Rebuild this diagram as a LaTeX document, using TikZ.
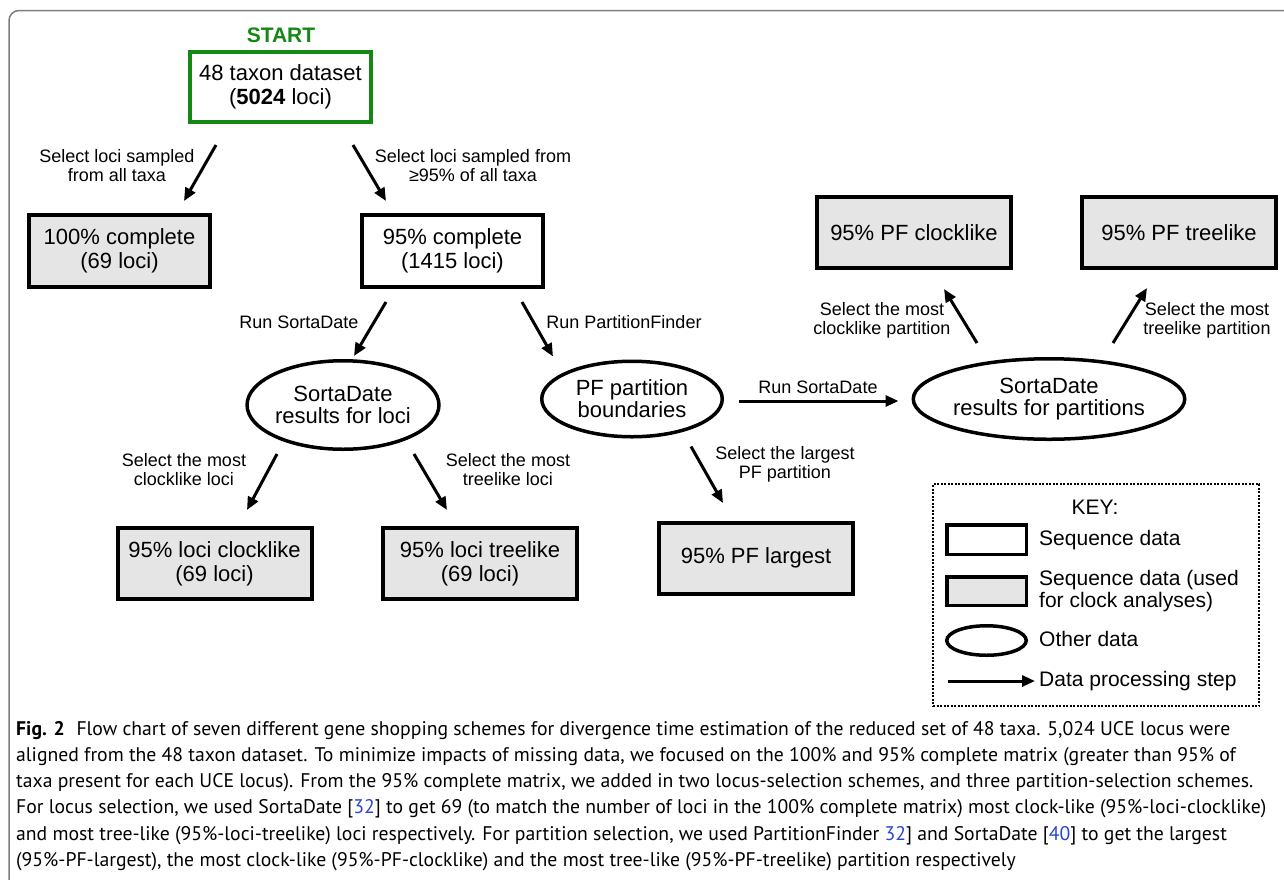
\documentclass[tikz,border=0pt]{standalone}
\usepackage{fontspec}
\setmainfont{Liberation Sans}
\newfontfamily\capfont{PT Sans}
\usepackage{tikz}
\usetikzlibrary{positioning, arrows.meta, shapes.geometric}
\definecolor{startgreen}{RGB}{20,135,20}
\definecolor{boxgray}{RGB}{229,229,229}
\definecolor{framegray}{RGB}{125,125,125}
\definecolor{refblue}{RGB}{40,70,210}

\begin{document}
\begin{tikzpicture}[x=1pt, y=-1pt,
  font=\fontsize{18}{19}\selectfont,
  databox/.style={draw, line width=4pt, minimum width=194pt, minimum height=71pt,
    inner sep=0pt, align=center, font=\fontsize{22}{24}\selectfont},
  clockbox/.style={databox, fill=boxgray},
  other/.style={draw, ellipse, line width=3.5pt, inner sep=0pt, align=center,
    font=\fontsize{22}{22}\selectfont},
  flow/.style={-{Triangle[length=13pt, width=11pt]}, line width=3pt},
  steplabel/.style={align=center, inner sep=0pt},
  keyshape/.style={draw, line width=3.5pt, minimum width=79.5pt, minimum height=29.5pt, inner sep=0pt},
  keytext/.style={anchor=west, align=left, inner sep=0pt, font=\fontsize{21}{22}\selectfont},
]
  \useasboundingbox (0,0) rectangle (1284,879);
  \draw[framegray, line width=1.5pt, rounded corners=10pt] (1290,10.5) -| (9,890);

  \node[databox, draw=startgreen, minimum width=181pt, minimum height=70pt] (ds) at (280.5,87)
    {48 taxon dataset\\(\textbf{5024} loci)};
  \node[text=startgreen, font=\fontsize{21}{21}\selectfont\bfseries] (start) at (281,35) {START};

  \node[clockbox, minimum width=181pt, minimum height=72pt] (full) at (119.5,251)
    {100\% complete\\(69 loci)};
  \node[databox, minimum width=181pt, minimum height=72pt] (c95) at (452.5,251)
    {95\% complete\\(1415 loci)};

  \node[other, minimum width=180.5pt, minimum height=88.5pt] (sdl) at (343,405)
    {SortaDate\\results for loci};
  \node[other, minimum width=180.5pt, minimum height=75.5pt] (pfb) at (632,399)
    {PF partition\\boundaries};
  \node[other, minimum width=234.5pt, minimum height=80.5pt] (sdp) at (1049,399)
    {SortaDate\\results for partitions};

  \node[clockbox] (lc) at (214.5,563.5) {95\% loci clocklike\\(69 loci)};
  \node[clockbox] (lt) at (480,563.5) {95\% loci treelike\\(69 loci)};
  \node[clockbox] (pfl) at (756,558) {95\% PF largest};
  \node[clockbox] (pfc) at (914,232.5) {95\% PF clocklike};
  \node[clockbox] (pft) at (1179,232.5) {95\% PF treelike};

  \draw[flow] ([xshift=-64.5pt, yshift=-21pt]ds.south) -- ([xshift=64.5pt, yshift=12pt]full.north);
  \draw[flow] ([xshift=72.5pt, yshift=-21pt]ds.south) -- ([xshift=-66.5pt, yshift=12pt]c95.north);
  \draw[flow] ([xshift=-66.5pt, yshift=-13pt]c95.south) -- ([xshift=11pt, yshift=3pt]sdl.north);
  \draw[flow] ([xshift=69.5pt, yshift=-13pt]c95.south) -- ([xshift=-79pt, yshift=3pt]pfb.north);
  \draw[flow] ([xshift=-66pt, yshift=-3pt]sdl.south) -- ([xshift=32.5pt, yshift=16pt]lc.north);
  \draw[flow] ([xshift=71pt, yshift=-3pt]sdl.south) -- ([xshift=-33pt, yshift=16pt]lt.north);
  \draw[flow] ([xshift=59pt, yshift=-8pt]pfb.south) -- ([xshift=-33pt, yshift=17.5pt]pfl.north);
  \draw[flow] ([xshift=15pt, yshift=-2pt]pfb.east) -- ([xshift=-13pt, yshift=-2pt]sdp.west);
  \draw[flow] ([xshift=-72pt, yshift=14pt]sdp.north) -- ([xshift=30pt, yshift=-19pt]pfc.south);
  \draw[flow] ([xshift=64pt, yshift=14pt]sdp.north) -- ([xshift=-32pt, yshift=-18pt]pft.south);

  \node[steplabel] (l1) at (117,166) {Select loci sampled\\from all taxa};
  \node[steplabel] (l2) at (473,166) {Select loci sampled from\\≥95\% of all taxa};
  \node[steplabel] (l3) at (299,322) {Run SortaDate};
  \node[steplabel] (l4) at (624,322) {Run PartitionFinder};
  \node[steplabel] (l5) at (184,470) {Select the most\\clocklike loci};
  \node[steplabel] (l6) at (508,470) {Select the most\\treelike loci};
  \node[steplabel] (l7) at (785,464) {Select the largest\\PF partition};
  \node[steplabel] (l8) at (818,387) {Run SortaDate};
  \node[steplabel] (l9) at (882,320) {Select the most\\clocklike partition};
  \node[steplabel] (l10) at (1207,320) {Select the most\\treelike partition};

  \node[draw, line width=2pt, dash pattern=on 2pt off 1.5pt, minimum width=326pt,
    minimum height=222pt, inner sep=0pt] (key) at (1096,595) {};
  \node[font=\fontsize{21}{21}\selectfont] (keytitle) at (1095,507) {KEY:};
  \node[keyshape] (kseq) at (986.5,539.5) {};
  \node[keyshape, fill=boxgray, minimum height=28.5pt] (kclock) at (986.5,591) {};
  \node[keyshape, ellipse] (kother) at (986.5,640.5) {};
  \node[keytext] (tseq) at (1039,540) {Sequence data};
  \node[keytext] (tclock) at (1039,591) {Sequence data (used\\for clock analyses)};
  \node[keytext] (tother) at (1039,639) {Other data};
  \node[keytext] (tstep) at (1039,681) {Data processing step};
  \coordinate (kfrom) at (948,681);
  \draw[flow] (kfrom) -- ([xshift=-4pt]tstep.west);

  \node[anchor=north west, align=left, inner sep=0pt,
    font=\capfont\fontsize{19.7}{26.2}\selectfont] (caption) at (16,721)
    {\textbf{Fig. 2}\hspace{0.6em}Flow chart of seven different gene shopping schemes for divergence time estimation of the reduced set of 48 taxa. 5,024 UCE locus were\\
     aligned from the 48 taxon dataset. To minimize impacts of missing data, we focused on the 100\% and 95\% complete matrix (greater than 95\% of\\
     taxa present for each UCE locus). From the 95\% complete matrix, we added in two locus-selection schemes, and three partition-selection schemes.\\
     For locus selection, we used SortaDate [{\color{refblue}32}] to get 69 (to match the number of loci in the 100\% complete matrix) most clock-like (95\%-loci-clocklike)\\
     and most tree-like (95\%-loci-treelike) loci respectively. For partition selection, we used PartitionFinder {\color{refblue}32}] and SortaDate [{\color{refblue}40}] to get the largest\\
     (95\%-PF-largest), the most clock-like (95\%-PF-clocklike) and the most tree-like (95\%-PF-treelike) partition respectively};
\end{tikzpicture}
\end{document}
